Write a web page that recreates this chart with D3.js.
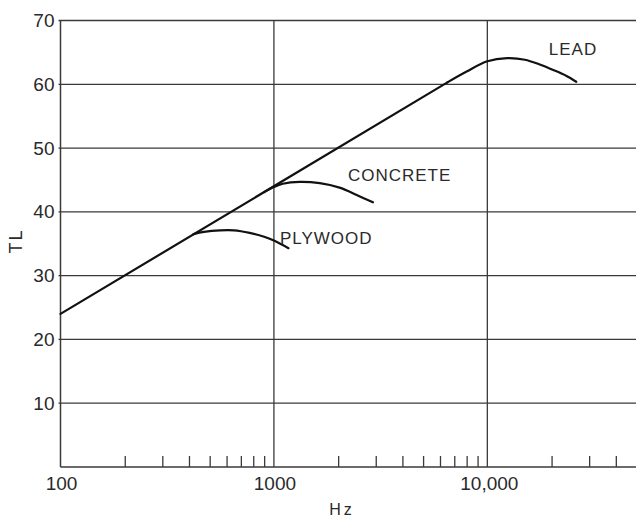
<!DOCTYPE html>
<html>
<head>
<meta charset="utf-8">
<script src="https://cdn.jsdelivr.net/npm/d3@7"></script>
<style>
  html, body { margin: 0; padding: 0; background: #fff; }
  svg { display: block; }
  text { font-family: "Liberation Sans", Arial, sans-serif; fill: #2a2a2a; }
</style>
</head>
<body>
<svg id="chart" width="636" height="518"></svg>
<script>
// ---- data ----
const yTicks = [10, 20, 30, 40, 50, 60, 70];
const xMajor = [100, 1000, 10000];
const xMajorLabels = ["100", "1000", "10,000"];
const xGrid = [1000, 10000];

// mass-law line (Hz, TL)
const massFreq = [100, 6500];
const massTL = [24, 60.3];

const leadFreq = [6500, 8000, 10000, 12400, 15000, 17600, 20500, 23500, 26100];
const leadTL = [60.3, 62.0, 63.6, 64.1, 63.85, 63.1, 62.2, 61.3, 60.4];

const concreteFreq = [900, 1000, 1100, 1320, 1640, 2030, 2430, 2910];
const concreteTL = [43.1, 43.9, 44.4, 44.7, 44.5, 43.8, 42.7, 41.5];

const plywoodFreq = [420, 470, 560, 650, 770, 900, 1000, 1170];
const plywoodTL = [36.5, 36.85, 37.1, 37.1, 36.7, 36.1, 35.5, 34.3];

const curveLabels = ["LEAD", "CONCRETE", "PLYWOOD"];
const labelAnchorFreq = [13300, 2270, 1090];
const labelAnchorTL = [63.7, 44.4, 35.8];

// ---- drawing ----
const svg = d3.select("#chart");
const x = d3.scaleLog().domain([100, 50000]).range([60.5, 636.5]);
const y = d3.scaleLinear().domain([0, 70]).range([467, 20.5]);

const gridColor = "#3a3a3a";

// horizontal grid lines
svg.append("g").selectAll("line").data(yTicks).join("line")
  .attr("x1", x(100) - 2).attr("x2", 636)
  .attr("y1", d => y(d)).attr("y2", d => y(d))
  .attr("stroke", gridColor).attr("stroke-width", 1.3);

// vertical grid lines
svg.append("g").selectAll("line").data(xGrid).join("line")
  .attr("x1", d => x(d)).attr("x2", d => x(d))
  .attr("y1", y(70)).attr("y2", y(0))
  .attr("stroke", gridColor).attr("stroke-width", 1.3);

// bottom axis with inward minor ticks
const minor = x.ticks().filter(t => !xMajor.includes(t) && t < 50000);
const xAxis = d3.axisBottom(x).tickValues(minor).tickSize(-11).tickFormat("");
const gx = svg.append("g").attr("transform", `translate(0,${y(0)})`).call(xAxis);
gx.select(".domain").remove();
gx.selectAll(".tick line").attr("stroke", gridColor).attr("stroke-width", 1.3);
svg.append("line").attr("x1", x(100)).attr("x2", 636)
  .attr("y1", y(0)).attr("y2", y(0)).attr("stroke", gridColor).attr("stroke-width", 1.5);

// left axis line
svg.append("line").attr("x1", x(100)).attr("x2", x(100))
  .attr("y1", y(70)).attr("y2", y(0)).attr("stroke", gridColor).attr("stroke-width", 1.5);

// y tick labels
svg.append("g").selectAll("text").data(yTicks).join("text")
  .attr("x", x(100) - 6).attr("y", d => y(d))
  .attr("text-anchor", "end").attr("dominant-baseline", "central")
  .attr("font-size", 19).text(d => d);

// x tick labels
svg.append("g").selectAll("text").data(xMajor).join("text")
  .attr("x", (d, i) => x(d) + (i === 2 ? 2 : 1)).attr("y", 483)
  .attr("text-anchor", "middle").attr("dominant-baseline", "central")
  .attr("font-size", 19).text((d, i) => xMajorLabels[i]);

// axis titles
svg.append("text").attr("x", 342).attr("y", 509)
  .attr("text-anchor", "middle").attr("dominant-baseline", "central")
  .attr("font-size", 16).attr("letter-spacing", 3).text("Hz");
svg.append("text").attr("transform", "translate(16,241) rotate(-90)")
  .attr("text-anchor", "middle").attr("dominant-baseline", "central")
  .attr("font-size", 18).attr("letter-spacing", 2).text("TL");

// curves
const line = d3.line().x(d => x(d[0])).y(d => y(d[1])).curve(d3.curveCatmullRom.alpha(0.5));
const series = [
  [massFreq, massTL],
  [leadFreq, leadTL],
  [concreteFreq, concreteTL],
  [plywoodFreq, plywoodTL]
];
svg.append("g").selectAll("path").data(series).join("path")
  .attr("d", s => line(s[0].map((f, i) => [f, s[1][i]])))
  .attr("fill", "none").attr("stroke", "#111").attr("stroke-width", 2.2)
  .attr("stroke-linecap", "round").attr("stroke-linejoin", "round");

// curve labels (positioned relative to data anchors)
const labelOffsets = [[35, -6], [-2, -3], [-2, 5]];
svg.append("g").selectAll("text").data(curveLabels).join("text")
  .attr("x", (d, i) => x(labelAnchorFreq[i]) + labelOffsets[i][0])
  .attr("y", (d, i) => y(labelAnchorTL[i]) + labelOffsets[i][1])
  .attr("font-size", 17).attr("letter-spacing", 1)
  .text(d => d);
</script>
</body>
</html>
